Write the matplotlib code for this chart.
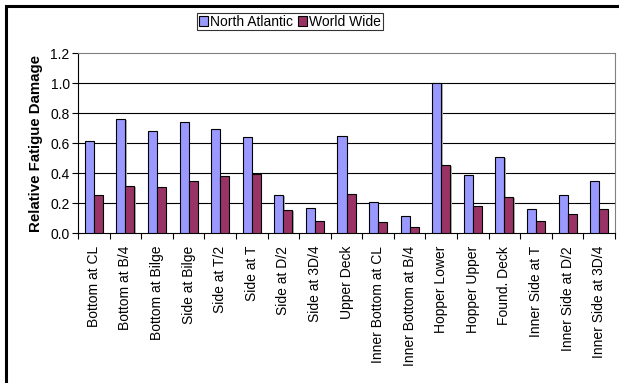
import matplotlib
matplotlib.use("Agg")
import matplotlib.pyplot as plt
import numpy as np
from matplotlib.patches import Rectangle

plt.rcParams['font.family'] = ['Liberation Sans', 'DejaVu Sans']

categories = ["Bottom at CL", "Bottom at B/4", "Bottom at Bilge", "Side at Bilge",
              "Side at T/2", "Side at T", "Side at D/2", "Side at 3D/4", "Upper Deck",
              "Inner Bottom at CL", "Inner Bottom at B/4", "Hopper Lower", "Hopper Upper",
              "Found. Deck", "Inner Side at T", "Inner Side at D/2", "Inner Side at 3D/4"]
north_atlantic = [0.615, 0.764, 0.68, 0.744, 0.695, 0.64, 0.253, 0.167, 0.649,
                  0.207, 0.113, 1.0, 0.391, 0.509, 0.162, 0.255, 0.349]
world_wide = [0.253, 0.318, 0.307, 0.349, 0.38, 0.395, 0.157, 0.08, 0.262,
              0.078, 0.042, 0.458, 0.182, 0.242, 0.08, 0.129, 0.164]
series_names = ["North Atlantic", "World Wide"]
yticks = [0.0, 0.2, 0.4, 0.6, 0.8, 1.0, 1.2]

W, H = 619, 383
fig = plt.figure(figsize=(W/100, H/100), dpi=100)
ax = fig.add_axes([78/W, 1-233.3/H, (615-78)/W, (233.3-53.3)/H])

x = np.arange(len(categories))
bw = 0.285
for xs, vals in [(x - bw/2, north_atlantic), (x + bw/2, world_wide)]:
    ax.bar(xs + 0.04, np.array(vals) - 0.006, width=bw, bottom=0, color='#b0b0b0', zorder=2, linewidth=0)
bars1 = ax.bar(x - bw/2, north_atlantic, width=bw, color='#9999FF', edgecolor='black', linewidth=0.8, zorder=3, label=series_names[0])
bars2 = ax.bar(x + bw/2, world_wide, width=bw, color='#993366', edgecolor='black', linewidth=0.8, zorder=3, label=series_names[1])

ax.set_xlim(-0.5, len(categories) - 0.5)
ax.set_ylim(0, 1.2)
ax.set_yticks(yticks)
ax.set_yticklabels([f"{v:.1f}" for v in yticks], fontsize=10)
for v in yticks[1:-1]:
    ax.axhline(v, color='black', linewidth=0.8, zorder=1)

ax.set_xticks(x)
ax.set_xticklabels(categories, rotation=90, fontsize=10)
ax.tick_params(axis='x', length=0, pad=9)
ax.set_xticks(np.arange(-0.5, len(categories) + 0.5, 1), minor=True)
ax.tick_params(axis='x', which='minor', length=4, width=0.8, color='black', direction='out')
ax.tick_params(axis='y', length=4, width=0.8, direction='out', pad=2)

ax.spines['left'].set_color('black')
ax.spines['left'].set_linewidth(0.8)
ax.spines['bottom'].set_color('black')
ax.spines['bottom'].set_linewidth(0.8)
ax.spines['top'].set_color('#808080')
ax.spines['right'].set_color('#808080')
ax.spines['top'].set_linewidth(0.8)
ax.spines['right'].set_linewidth(0.8)

ax.set_ylabel("Relative Fatigue Damage", fontsize=10.8, fontweight='bold', labelpad=5)

leg = fig.legend(handles=[bars1, bars2], labels=series_names, loc='center',
                 bbox_to_anchor=(290/W, 1-21.5/H), ncol=2, fontsize=10, frameon=True,
                 fancybox=False, edgecolor='black', handlelength=0.7, handleheight=0.7,
                 handletextpad=0.15, columnspacing=0.3, borderpad=0.12, borderaxespad=0)
leg.get_frame().set_linewidth(0.8)

# outer chart frame
fig.patches.append(Rectangle((6/W, -0.05), 1.2, 1 - 6/H + 0.05, transform=fig.transFigure,
                             fill=False, edgecolor='black', linewidth=2.2, clip_on=False))

fig.savefig("out.png", dpi=100)
